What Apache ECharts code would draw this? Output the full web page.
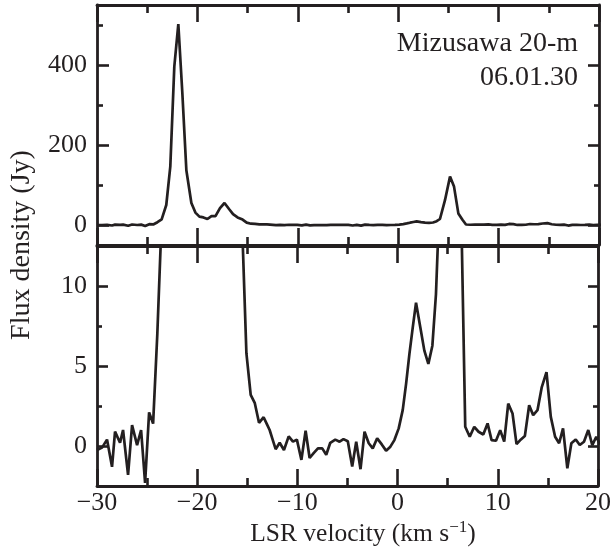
<!DOCTYPE html>
<html>
<head>
<meta charset="utf-8">
<script src="https://cdn.jsdelivr.net/npm/echarts@6/dist/echarts.min.js"></script>
<style>
html,body{margin:0;padding:0;background:#fff;}
#chart{width:614px;height:559px;}
</style>
</head>
<body>
<div id="chart"></div>
<script>
// LSR velocity (km/s) of each channel
var velocity = [
  -30.0, -29.5, -29.0, -28.5, -28.2, -27.7, -27.4, -26.9, -26.5, -26.0,
  -25.6, -25.2, -24.8, -24.4, -23.98, -23.56, -23.1, -22.7, -22.3, -21.9,
  -21.5, -21.1, -20.6, -20.2, -19.8, -19.4, -19.0, -18.6, -18.2, -17.75,
  -17.3, -16.85, -16.45, -16.0, -15.5, -15.09, -14.66, -14.26, -13.83, -13.37,
  -13.07, -12.77, -12.47, -12.17, -11.77, -11.34, -10.87, -10.44, -10.05, -9.6,
  -9.18, -8.78, -8.38, -7.95, -7.52, -7.12, -6.72, -6.22, -5.79, -5.4,
  -4.97, -4.53, -4.13, -3.7, -3.3, -2.88, -2.48, -2.04, -1.58, -1.15,
  -0.72, -0.32, 0.11, 0.51, 0.85, 1.18, 1.51, 1.84, 2.27, 2.67,
  3.07, 3.47, 3.83, 4.16, 4.66, 5.16, 5.56, 5.99, 6.4, 6.75,
  7.2, 7.65, 8.08, 8.55, 8.98, 9.38, 9.82, 10.24, 10.64, 11.04,
  11.47, 11.87, 12.31, 12.7, 13.13, 13.53, 13.96, 14.39, 14.86, 15.29,
  15.72, 16.12, 16.51, 16.94, 17.34, 17.78, 18.18, 18.6, 19.03, 19.43,
  19.83, 20.2
];
// Flux density (Jy) of each channel
var flux = [
  -0.25, -0.1, 0.4, -1.3, 0.9, 0.2, 1.0, -1.8, 1.3, 0.05,
  1.0, -2.3, 2.1, 1.4, 7, 14, 50, 146, 396, 502,
  330, 137, 55, 31, 21, 19, 15, 22, 22, 42,
  55, 40, 27, 19, 13.5, 5.8, 3.2, 2.7, 1.45, 1.8,
  1.4, 1.0, 0.4, -0.2, 0.2, -0.25, 0.6, 0.27, 0.4, -0.87,
  0.95, -0.75, -0.45, -0.15, -0.15, -0.55, 0.2, 0.4, 0.27, 0.43,
  0.3, -1.28, 0.27, -1.45, 0.89, 0.17, -0.15, 0.48, 0.1, -0.29,
  -0.04, 0.37, 1.1, 2.24, 3.9, 5.76, 7.4, 8.96, 7.4, 5.96,
  5.13, 6.27, 9.5, 15, 62, 121, 96, 29, 13, 1.2,
  0.58, 1.2, 0.89, 0.72, 1.41, 0.37, 0.33, 0.99, 0.27, 2.65,
  2.03, 0.12, 0.41, 0.62, 2.55, 1.93, 2.24, 3.68, 4.62, 1.82,
  0.58, 0.17, 1.1, -1.39, 0.17, 0.41, 0.06, 0.27, 1.0, 0.06,
  0.58, 0.1
];
// axis ranges and ticks
var xRange = [-30, 20];
var xMajorTicks = [-30, -20, -10, 0, 10, 20];
var xMinorTicks = [-25, -15, -5, 5, 15];
var topRange = [-50, 550];
var topMajorTicks = [0, 200, 400];
var topMinorTicks = [100, 300, 500];
var lowRange = [-2.5, 12.5];
var lowMajorTicks = [0, 5, 10];
var lowMinorTicks = [2.5, 7.5];
var stationText = ['Mizusawa 20-m', '06.01.30'];
var xTitle = 'LSR velocity (km s';
var xTitleSup = '\u22121';
var yTitle = 'Flux density (Jy)';

var INK = '#231f20';
var FONT = '"Liberation Serif", "Times New Roman", serif';
var AXW = 2.8;

var pairs = velocity.map(function (v, i) { return [v, flux[i]]; });

function xAx(grid, pos, major, showLine, showLabel) {
  return {
    type: 'value', gridIndex: grid, position: pos,
    min: xRange[0], max: xRange[1],
    axisLine: { show: showLine, onZero: false, lineStyle: { color: INK, width: AXW } },
    axisTick: { show: true, inside: true, length: major ? 17 : 8,
      customValues: major ? xMajorTicks : xMinorTicks,
      lineStyle: { color: INK, width: 2.6 } },
    axisLabel: { show: showLabel, customValues: xMajorTicks, margin: 4,
      color: INK, fontFamily: FONT, fontSize: 26,
      formatter: function (v) { return v < 0 ? '\u2212' + Math.abs(v) : String(v); } },
    splitLine: { show: false }
  };
}
function yAx(grid, pos, range, ticks, len, showLine, showLabel) {
  return {
    type: 'value', gridIndex: grid, position: pos,
    min: range[0], max: range[1],
    axisLine: { show: showLine, onZero: false, lineStyle: { color: INK, width: AXW } },
    axisTick: { show: true, inside: true, length: len, customValues: ticks,
      lineStyle: { color: INK, width: 2.6 } },
    axisLabel: { show: showLabel, customValues: ticks, margin: 10,
      color: INK, fontFamily: FONT, fontSize: 26 },
    splitLine: { show: false }
  };
}

var chart = echarts.init(document.getElementById('chart'), null, { renderer: 'canvas' });
chart.setOption({
  animation: false,
  backgroundColor: '#fff',
  grid: [
    { left: 97, right: 15, top: 5, height: 240 },
    { left: 97, right: 15, top: 246, height: 240 }
  ],
  xAxis: [
    xAx(0, 'bottom', true, true, false),
    xAx(0, 'bottom', false, false, false),
    xAx(0, 'top', true, true, false),
    xAx(0, 'top', false, false, false),
    xAx(1, 'bottom', true, true, true),
    xAx(1, 'bottom', false, false, false),
    xAx(1, 'top', true, true, false),
    xAx(1, 'top', false, false, false)
  ],
  yAxis: [
    yAx(0, 'left', topRange, topMajorTicks, 12, true, true),
    yAx(0, 'left', topRange, topMinorTicks, 6, false, false),
    yAx(0, 'right', topRange, topMajorTicks, 11, true, false),
    yAx(0, 'right', topRange, topMinorTicks, 5, false, false),
    yAx(1, 'left', lowRange, lowMajorTicks, 11, true, true),
    yAx(1, 'left', lowRange, lowMinorTicks, 5, false, false),
    yAx(1, 'right', lowRange, lowMajorTicks, 10, true, false),
    yAx(1, 'right', lowRange, lowMinorTicks, 5, false, false)
  ],
  series: [
    { type: 'line', xAxisIndex: 0, yAxisIndex: 0, data: pairs, showSymbol: false,
      symbol: 'none', clip: true, lineStyle: { color: INK, width: 2.7 } },
    { type: 'line', xAxisIndex: 4, yAxisIndex: 4, data: pairs, showSymbol: false,
      symbol: 'none', clip: true, lineStyle: { color: INK, width: 2.7 } }
  ],
  graphic: [
    { type: 'text', x: 578, y: 44, style: { text: stationText[0], fill: INK,
      font: '28px ' + FONT, textAlign: 'right', textVerticalAlign: 'middle' } },
    { type: 'text', x: 578, y: 78, style: { text: stationText[1], fill: INK,
      font: '28px ' + FONT, textAlign: 'right', textVerticalAlign: 'middle' } },
    { type: 'text', x: 22, y: 245, rotation: Math.PI / 2, style: { text: yTitle, fill: INK,
      font: '28px ' + FONT, textAlign: 'center', textVerticalAlign: 'middle' } },
    { type: 'text', x: 363, y: 534, style: {
      text: xTitle + '{sup|' + xTitleSup + '}{n|)}', fill: INK,
      font: '25.5px ' + FONT, textAlign: 'center', textVerticalAlign: 'middle',
      rich: {
        sup: { fontFamily: FONT, fontSize: 17, fill: INK, padding: [0, 0, 13, 0] },
        n: { fontFamily: FONT, fontSize: 25.5, fill: INK }
      } } }
  ]
});
</script>
</body>
</html>
